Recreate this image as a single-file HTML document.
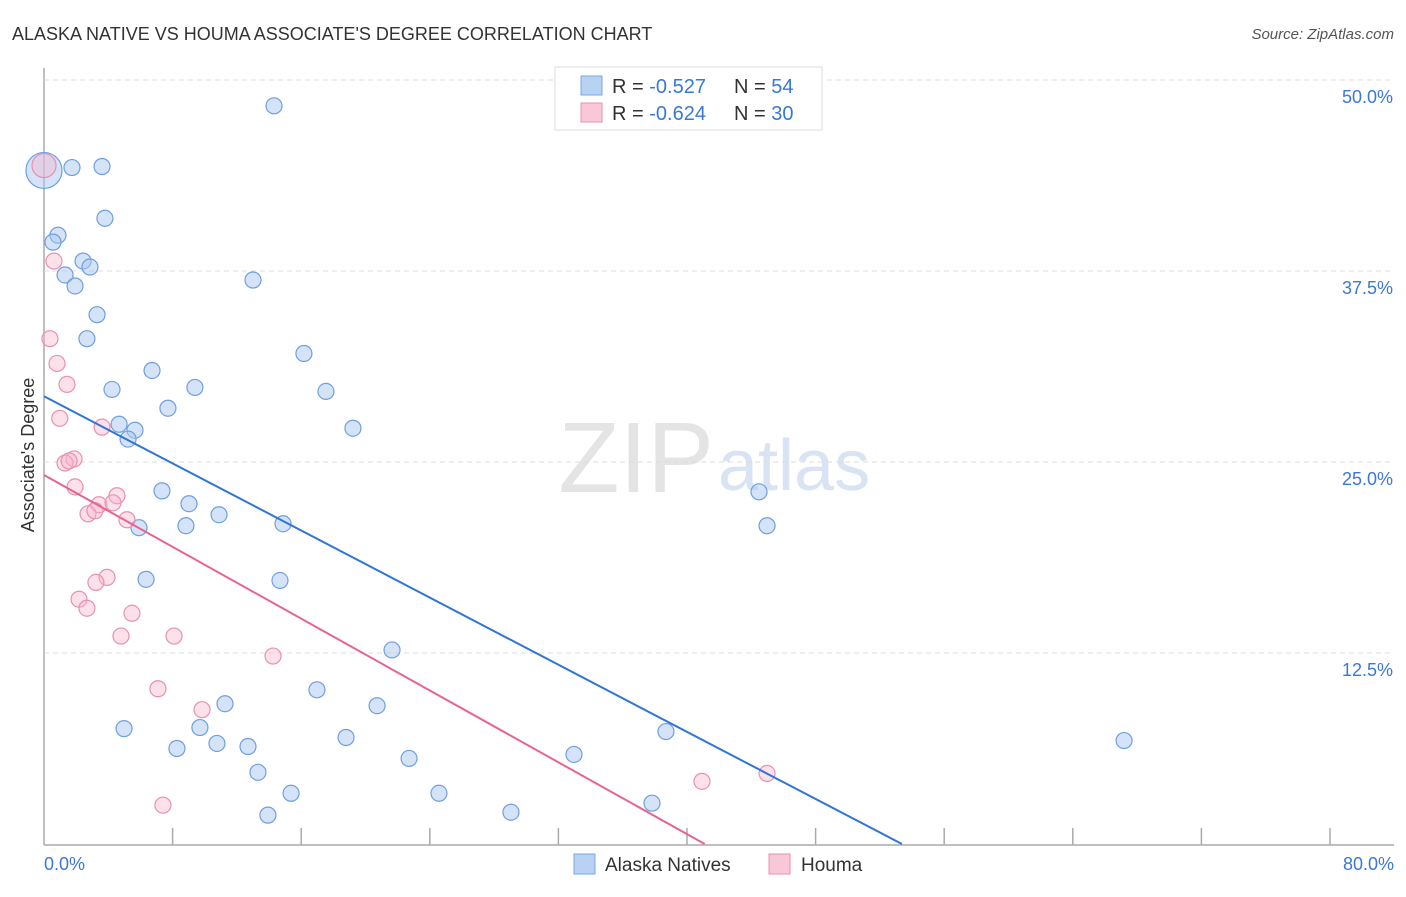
<!DOCTYPE html>
<html><head><meta charset="utf-8"><style>
body{margin:0;background:#fff;font-family:"Liberation Sans",sans-serif;}
svg text{font-family:"Liberation Sans",sans-serif;}
</style></head><body>
<svg id="c" width="1406" height="892">
<text x="12" y="40" font-size="18" fill="#333">ALASKA NATIVE VS HOUMA ASSOCIATE'S DEGREE CORRELATION CHART</text>
<text x="1394" y="39" font-size="15" fill="#555" text-anchor="end" font-style="italic">Source: ZipAtlas.com</text>
<text x="714" y="492" font-size="100" fill="#e4e4e4" text-anchor="end" font-family="Liberation Serif">ZIP</text>
<text x="718" y="490" font-size="72" fill="#d8e4f4">atlas</text>
<g id="grid"></g><g id="marks"></g>
<text transform="translate(34,455) rotate(-90)" font-size="18" fill="#333" text-anchor="middle">Associate's Degree</text>
<g>
<rect x="555" y="67" width="267" height="63" fill="#fff" stroke="#ddd"/>
<rect x="581" y="76" width="21" height="19" fill="#b8d2f4" stroke="#7ba7e0"/>
<text x="612" y="93" font-size="20" fill="#333">R = <tspan fill="#3a78d8">-0.527</tspan></text>
<text x="734" y="93" font-size="20" fill="#333">N = <tspan fill="#3a78d8">54</tspan></text>
<rect x="581" y="103" width="21" height="19" fill="#f9c8d8" stroke="#e890b0"/>
<text x="612" y="120" font-size="20" fill="#333">R = <tspan fill="#3a78d8">-0.624</tspan></text>
<text x="734" y="120" font-size="20" fill="#333">N = <tspan fill="#3a78d8">30</tspan></text>
</g>
<g>
<rect x="574" y="854" width="21" height="20" fill="#b8d2f4" stroke="#7ba7e0"/>
<text x="605" y="871" font-size="19" fill="#333">Alaska Natives</text>
<rect x="769" y="854" width="21" height="20" fill="#f9c8d8" stroke="#e890b0"/>
<text x="801" y="871" font-size="19" fill="#333">Houma</text>
</g>
</svg>
<script>
const xTicks=[0,8,16,24,32,40,48,56,64,72,80];
const yTicks=[12.5,25,37.5,50];
const blueX=[14.31,0,1.74,3.61,3.79,0.87,0.56,2.43,2.86,1.31,1.93,13.0,3.30,2.67,16.17,6.72,4.23,9.39,17.54,7.71,4.67,5.66,5.23,19.22,7.34,9.02,10.89,8.83,5.91,14.87,44.48,44.98,6.35,14.68,21.65,16.98,11.26,20.72,4.98,9.70,38.69,18.79,10.76,12.69,8.27,22.71,32.97,67.19,13.31,15.37,24.57,37.82,29.05,13.93];
const blueY=[48.31,44.08,44.27,44.34,40.95,39.84,39.39,38.15,37.76,37.24,36.52,36.91,34.64,33.07,32.10,30.99,29.75,29.88,29.62,28.52,27.47,27.08,26.50,27.21,23.11,22.27,21.55,20.83,20.70,20.96,23.05,20.83,17.32,17.25,12.70,10.09,9.18,9.05,7.55,7.62,7.36,6.97,6.58,6.38,6.25,5.60,5.86,6.77,4.69,3.32,3.32,2.67,2.08,1.89];
const pinkX=[0,0.62,0.37,0.81,1.43,0.98,3.61,1.87,1.31,1.56,1.93,4.54,3.42,4.29,2.74,3.17,5.16,3.92,3.23,2.18,2.67,5.47,4.79,8.09,14.25,7.09,9.83,7.40,40.93,44.98];
const pinkY=[44.40,38.15,33.07,31.45,30.08,27.86,27.28,25.20,24.93,25.07,23.37,22.79,22.20,22.33,21.61,21.81,21.22,17.45,17.12,16.02,15.43,15.10,13.61,13.61,12.30,10.16,8.79,2.54,4.10,4.62];
const blueLine=[29.3,53.37];
const pinkLine=[24.15,41.1];
const X=v=>44+v*16.075, Y=v=>844-v*15.28;
const NS='http://www.w3.org/2000/svg';
const g=document.getElementById('grid'), m=document.getElementById('marks');
function mk(tag,at,p){const e=document.createElementNS(NS,tag);for(const k in at)e.setAttribute(k,at[k]);p.appendChild(e);return e;}
let ax=mk('line',{x1:44,y1:68,x2:44,y2:845,stroke:'#aaa','stroke-width':1.5},g);


let bx=mk('line',{x1:44,y1:845,x2:1394,y2:845,stroke:'#aaa','stroke-width':1.5},g);


yTicks.forEach(t=>{
 const l=mk('line',{x1:44,y1:Y(t),x2:1394,y2:Y(t),stroke:'#ddd','stroke-dasharray':'5,4'},g);
 
 
 const tx=mk('text',{x:1393,y:Y(t)+23,'font-size':18,fill:'#3a78d8','text-anchor':'end'},g);
 tx.textContent=t.toFixed(1)+'%';
 
 
});
xTicks.forEach((t,i)=>{
 if(i>0){const l=mk('line',{x1:X(t),y1:828,x2:X(t),y2:845,stroke:'#aaa','stroke-width':1.5},g);
 
 }
});
[[0,'start',44],[80,'end',1394]].forEach(([t,a,x])=>{
 const tx=mk('text',{x:x,y:870,'font-size':18,fill:'#3a78d8','text-anchor':a},g);
 tx.textContent=t.toFixed(1)+'%';
 
 
});
blueX.forEach((v,i)=>{
 const c=mk('circle',{cx:X(v),cy:Y(blueY[i]),r:i==1?18:8,fill:'rgba(170,200,240,0.5)',stroke:'#6f9fe0','stroke-width':1.2},m);
 
 
});
pinkX.forEach((v,i)=>{
 const c=mk('circle',{cx:X(v),cy:Y(pinkY[i]),r:i==0?12:8,fill:'rgba(248,180,205,0.4)',stroke:'#e890b0','stroke-width':1.2},m);
 
 
});
const bl=mk('line',{x1:X(0),y1:Y(blueLine[0]),x2:X(blueLine[1]),y2:Y(0),stroke:'#2f74d8','stroke-width':2},m);


const pl=mk('line',{x1:X(0),y1:Y(pinkLine[0]),x2:X(pinkLine[1]),y2:Y(0),stroke:'#e8648f','stroke-width':2},m);


</script>
</body></html>
